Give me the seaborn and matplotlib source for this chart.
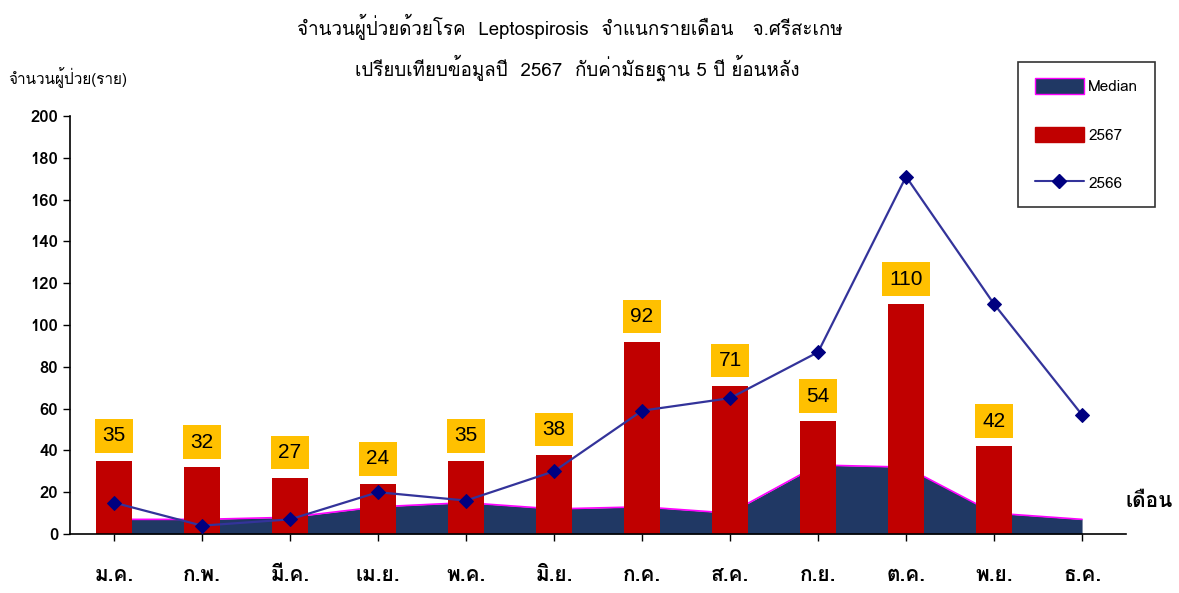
import numpy as np
import pandas as pd
import seaborn as sns
import matplotlib.pyplot as plt
import matplotlib.patches as mpatches
from matplotlib.lines import Line2D

months = ["ม.ค.", "ก.พ.", "มี.ค.", "เม.ย.", "พ.ค.", "มิ.ย.",
          "ก.ค.", "ส.ค.", "ก.ย.", "ต.ค.", "พ.ย.", "ธ.ค."]
cases_2567 = [35, 32, 27, 24, 35, 38, 92, 71, 54, 110, 42, np.nan]
cases_2566 = [15, 4, 7, 20, 16, 30, 59, 65, 87, 171, 110, 57]
median_5y = [7, 7, 8, 13, 15, 12, 13, 10, 33, 32, 10, 7]

sns.set_theme(style="white")
plt.rcParams['font.family'] = ['Loma', 'DejaVu Sans']
plt.rcParams.update({"text.color": "black", "xtick.color": "black",
                     "ytick.color": "black", "axes.labelcolor": "black"})

df = pd.DataFrame({"month": months, "pos": np.arange(len(months)),
                   "y2567": cases_2567, "y2566": cases_2566, "median": median_5y})

fig = plt.figure(figsize=(11.79, 5.93), dpi=100)
ax = fig.add_axes([0.0594, 0.0995, 0.8957, 0.7049])

# median area (behind)
ax.fill_between(df["pos"], df["median"], 0, color="#203864", lw=0, zorder=1)
ax.plot(df["pos"], df["median"], color="#FF00FF", lw=1.2, zorder=1.5)

sns.barplot(data=df, x="pos", y="y2567", color="#C00000", width=0.4,
            saturation=1, native_scale=True, linewidth=0, edgecolor="#C00000",
            ax=ax, zorder=2)

sns.lineplot(data=df, x="pos", y="y2566", color="#33339A", lw=1.6, marker="D",
             markersize=7, markerfacecolor="#000080", markeredgecolor="#000080",
             ax=ax, zorder=3)

for x, v in zip(df["pos"], df["y2567"]):
    if np.isnan(v):
        continue
    ax.text(x, v + 12, f"{int(v)}", ha="center", va="center", fontsize=15,
            family=["Liberation Sans", "DejaVu Sans"],
            bbox=dict(facecolor="#FFC000", edgecolor="none", boxstyle="square,pad=0.35"),
            zorder=4)

ax.set_xlim(-0.5, 11.5)
ax.set_ylim(0, 200)
ax.set_yticks(range(0, 201, 20))
ax.set_xticks(df["pos"])
ax.set_xticklabels(months, fontsize=15, fontweight="bold")
for lab in ax.get_yticklabels():
    lab.set_fontsize(12)
    lab.set_fontweight("bold")
ax.set_xlabel("")
ax.set_ylabel("")
ax.tick_params(axis="both", direction="out", length=5, width=1, color="black", bottom=True, left=True)
ax.tick_params(axis="x", pad=18)
for s in ["top", "right"]:
    ax.spines[s].set_visible(False)
for s in ["left", "bottom"]:
    ax.spines[s].set_color("black")
    ax.spines[s].set_linewidth(1.2)

fig.text(0.483, 0.955, "จำนวนผู้ป่วยด้วยโรค  Leptospirosis  จำแนกรายเดือน   จ.ศรีสะเกษ",
         ha="center", va="center", fontsize=13.5)
fig.text(0.49, 0.885, "เปรียบเทียบข้อมูลปี  2567  กับค่ามัธยฐาน 5 ปี ย้อนหลัง",
         ha="center", va="center", fontsize=13.5)
fig.text(0.007, 0.87, "จำนวนผู้ป่วย(ราย)", ha="left", va="center", fontsize=11)
fig.text(0.955, 0.155, "เดือน", ha="left", va="center", fontsize=15, fontweight="bold")

handles = [mpatches.Patch(facecolor="#203864", edgecolor="#FF00FF", label="Median"),
           mpatches.Patch(facecolor="#C00000", edgecolor="#C00000", label="2567"),
           Line2D([], [], color="#33339A", marker="D", markersize=7, lw=1.5,
                  markerfacecolor="#000080", markeredgecolor="#000080", label="2566")]
leg = fig.legend(handles=handles, loc="upper left", bbox_to_anchor=(0.8635, 0.896),
                 frameon=True, fancybox=False, edgecolor="black", fontsize=11,
                 labelspacing=2.1, handlelength=3.2, handleheight=1.2, borderpad=1.1,
                 handletextpad=0.3, borderaxespad=0)
leg.get_frame().set_linewidth(1.2)

fig.savefig("out.png", dpi=100)
